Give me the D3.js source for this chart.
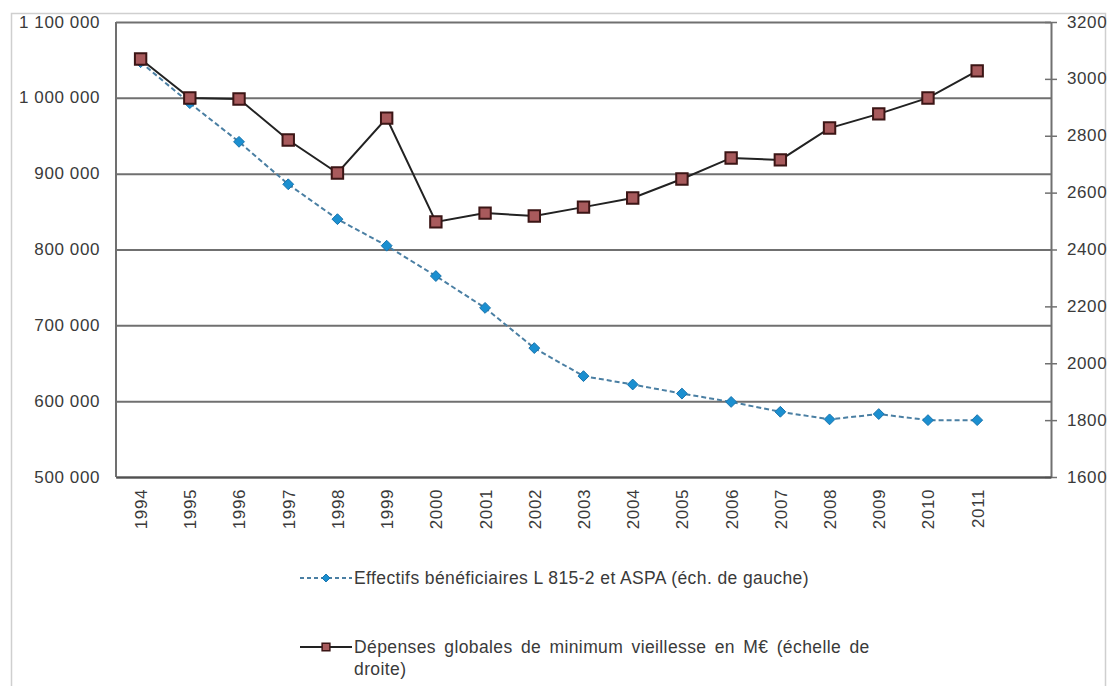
<!DOCTYPE html>
<html>
<head>
<meta charset="utf-8">
<script src="https://cdn.jsdelivr.net/npm/d3@7"></script>
<style>
  body { margin: 0; background: #fff; }
  svg { display: block; font-family: 'Liberation Sans', Arial, sans-serif; }
  .tick text { fill: #3a3a3a; font-size: 17px; letter-spacing: 0.6px; }
</style>
</head>
<body>
<svg id="chart" width="1109" height="686"></svg>
<script>
const years = [1994, 1995, 1996, 1997, 1998, 1999, 2000, 2001, 2002, 2003,
  2004, 2005, 2006, 2007, 2008, 2009, 2010, 2011];

// Effectifs bénéficiaires (left scale)
const beneficiaires = [1047000, 993000, 942000, 886000, 840000, 805000, 765000,
  723000, 670000, 633000, 622000, 610000, 599000, 586000, 576000, 583000,
  575000, 575000];

// Dépenses globales en M€ (right scale)
const depenses = [3070, 2933, 2929, 2785, 2669, 2862, 2497, 2528, 2518, 2549,
  2581, 2648, 2722, 2715, 2827, 2877, 2933, 3028];

const leftTicks = [500000, 600000, 700000, 800000, 900000, 1000000, 1100000];
const rightTicks = [1600, 1800, 2000, 2200, 2400, 2600, 2800, 3000, 3200];

const legendLabels = [
  ['Effectifs bénéficiaires L 815-2 et ASPA (éch. de gauche)'],
  ['Dépenses globales de minimum vieillesse en M€ (échelle de', 'droite)']
];

const margin = { top: 22, right: 58, bottom: 209, left: 116 },
  width = 1109,
  height = 686,
  chartWidth = width - margin.left - margin.right,
  chartHeight = height - margin.top - margin.bottom;

const gridColor = '#707070',
  textColor = '#3a3a3a',
  blueLine = '#4a7fa3',
  blueMarker = '#1b8fd0',
  redFill = '#a85a5c',
  redStroke = '#3b1515';

const fr = d3.formatLocale({ decimal: ',', thousands: ' ', grouping: [3], currency: ['', ' €'] });
const fmt = fr.format(',d');

const svg = d3.select('#chart');

// outer frame
svg.append('rect')
  .attr('x', 11.5).attr('y', 13.5)
  .attr('width', 1094).attr('height', 700)
  .attr('fill', 'none')
  .attr('stroke', '#cfcfcf')
  .attr('stroke-width', 1.5);

const g = svg.append('g')
  .attr('transform', 'translate(' + margin.left + ',' + margin.top + ')');

const x = d3.scaleLinear()
  .domain([years[0] - 0.5, years[years.length - 1] + 1.5])
  .range([0, chartWidth]);

const yLeft = d3.scaleLinear()
  .domain([leftTicks[0], leftTicks[leftTicks.length - 1]])
  .range([chartHeight, 0]);

const yRight = d3.scaleLinear()
  .domain([rightTicks[0], rightTicks[rightTicks.length - 1]])
  .range([chartHeight, 0]);

/* gridlines + left axis */
const leftAxis = g.append('g')
  .attr('class', 'y axis')
  .call(d3.axisLeft(yLeft)
    .tickValues(leftTicks)
    .tickFormat(fmt)
    .tickSizeInner(-chartWidth)
    .tickSizeOuter(0)
    .tickPadding(16));

leftAxis.select('.domain').remove();
leftAxis.selectAll('line')
  .attr('stroke', gridColor)
  .attr('stroke-width', 2);
leftAxis.selectAll('text').attr('dy', '0.3em');

/* right axis */
const rightAxis = g.append('g')
  .attr('class', 'y2 axis')
  .attr('transform', 'translate(' + chartWidth + ',0)')
  .call(d3.axisRight(yRight)
    .tickValues(rightTicks)
    .tickFormat(d3.format('d'))
    .tickSizeInner(6)
    .tickSizeOuter(0)
    .tickPadding(10));

rightAxis.select('.domain')
  .attr('stroke', gridColor)
  .attr('stroke-width', 2);
rightAxis.selectAll('.tick line')
  .attr('x1', -6)
  .attr('stroke', gridColor)
  .attr('stroke-width', 1.5);
rightAxis.selectAll('text').attr('dy', '0.3em');

/* left axis line */
g.append('line')
  .attr('x1', 0).attr('x2', 0)
  .attr('y1', 0).attr('y2', chartHeight)
  .attr('stroke', gridColor)
  .attr('stroke-width', 2);

/* x axis */
const xAxis = g.append('g')
  .attr('class', 'x axis')
  .attr('transform', 'translate(0,' + chartHeight + ')')
  .call(d3.axisBottom(x)
    .tickValues(years)
    .tickFormat(d3.format('d'))
    .tickSize(0)
    .tickSizeOuter(0));

xAxis.select('.domain')
  .attr('stroke', '#505050')
  .attr('stroke-width', 2);

xAxis.selectAll('text')
  .attr('transform', 'rotate(-90)')
  .attr('x', -12)
  .attr('y', 0)
  .attr('dy', '0.35em')
  .style('text-anchor', 'end');

/* beneficiaires line (dashed) */
const lineLeft = d3.line()
  .x((d, i) => x(years[i]))
  .y(d => yLeft(d));

g.append('path')
  .datum(beneficiaires)
  .attr('d', lineLeft)
  .attr('fill', 'none')
  .attr('stroke', blueLine)
  .attr('stroke-width', 2)
  .attr('stroke-dasharray', '5,3');

const diamond = d3.symbol().type(d3.symbolDiamond2).size(75);

g.append('g')
  .selectAll('path')
  .data(beneficiaires)
  .enter()
  .append('path')
  .attr('d', diamond)
  .attr('transform', (d, i) => 'translate(' + x(years[i]) + ',' + yLeft(d) + ')')
  .attr('fill', blueMarker)
  .attr('stroke', '#1673ad')
  .attr('stroke-width', 1);

/* depenses line */
const lineRight = d3.line()
  .x((d, i) => x(years[i]))
  .y(d => yRight(d));

g.append('path')
  .datum(depenses)
  .attr('d', lineRight)
  .attr('fill', 'none')
  .attr('stroke', '#222')
  .attr('stroke-width', 2);

const square = d3.symbol().type(d3.symbolSquare).size(130);

g.append('g')
  .selectAll('path')
  .data(depenses)
  .enter()
  .append('path')
  .attr('d', square)
  .attr('transform', (d, i) => 'translate(' + x(years[i]) + ',' + yRight(d) + ')')
  .attr('fill', redFill)
  .attr('stroke', redStroke)
  .attr('stroke-width', 2);

/* legend */
const legend = svg.append('g').attr('class', 'legend');

const legendRows = [
  { y: 578, color: blueLine, dash: '4,3', marker: d3.symbol().type(d3.symbolDiamond2).size(40), fill: blueMarker, stroke: '#1673ad', sw: 1, spacing: 0 },
  { y: 647, color: '#222', dash: null, marker: d3.symbol().type(d3.symbolSquare).size(60), fill: redFill, stroke: redStroke, sw: 1.5, spacing: 3 }
];

legendRows.forEach((row, i) => {
  const lg = legend.append('g').attr('transform', 'translate(300,' + row.y + ')');
  lg.append('line')
    .attr('x1', 0).attr('x2', 52)
    .attr('stroke', row.color)
    .attr('stroke-width', 2)
    .attr('stroke-dasharray', row.dash);
  lg.append('path')
    .attr('d', row.marker())
    .attr('transform', 'translate(26,0)')
    .attr('fill', row.fill)
    .attr('stroke', row.stroke)
    .attr('stroke-width', row.sw);
  const t = lg.append('text')
    .attr('x', 54)
    .attr('y', 0)
    .attr('fill', textColor)
    .style('font-size', '17.5px')
    .style('letter-spacing', '0.4px');
  legendLabels[i].forEach((s, j) => {
    t.append('tspan')
      .attr('x', 54)
      .attr('dy', j === 0 ? '0.35em' : '1.25em')
      .style('word-spacing', j === 0 ? row.spacing + 'px' : '0px')
      .text(s);
  });
});
</script>
</body>
</html>
